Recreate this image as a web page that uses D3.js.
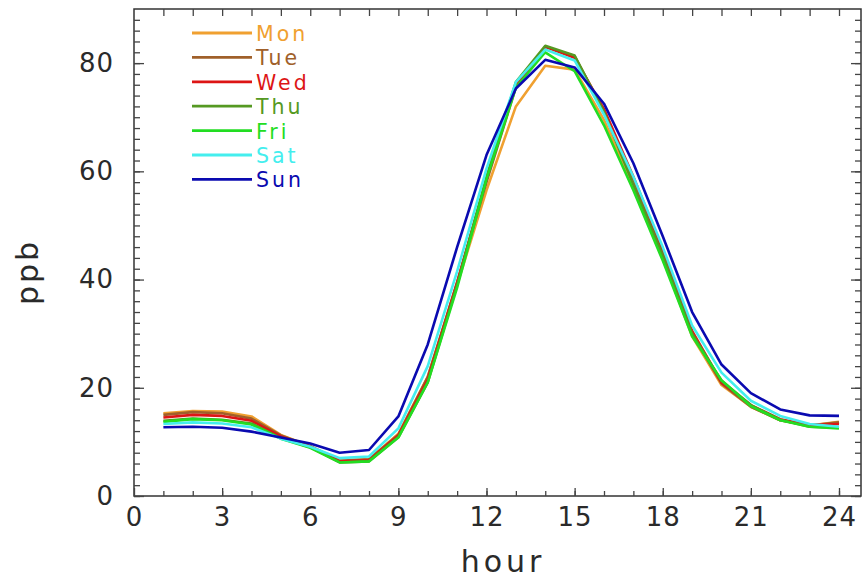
<!DOCTYPE html>
<html>
<head>
<meta charset="utf-8">
<script src="https://cdn.jsdelivr.net/npm/d3@7"></script>
<style>
  body { margin: 0; background: #fff; }
  svg text { font-family: "DejaVu Sans", sans-serif; fill: #2a2a2a; }
</style>
</head>
<body>
<div id="chart"></div>
<script>
// hours 1..24, ppb per weekday
const hours = d3.range(1, 25);
const days = ["Mon", "Tue", "Wed", "Thu", "Fri", "Sat", "Sun"];
const mon = [15.3,15.7,15.6,14.7,11.3,9.2,6.6,6.8,11.5,22,39,56.5,72,79.5,78.8,69.5,57,44,29.5,20.5,16.5,14,13,13.7];
const tue = [15.0,15.5,15.3,14.3,11.2,9.2,6.5,6.8,11.3,22,39.5,58,75.5,83,81.3,71,58.5,45,30,20.8,16.5,14,13,13.6];
const wed = [14.5,15.0,14.8,13.9,11.0,9.1,6.4,6.6,11.2,21.5,39.5,58.5,76,83,81,71.5,59,45.5,30.5,21,16.8,14.2,13.1,13.3];
const thu = [13.9,14.3,14.1,13.4,10.7,9.0,6.2,6.4,10.9,21,39,59,76.5,83.2,81.4,71,57.5,44.5,30,21.3,16.8,14.1,12.8,12.6];
const fri = [13.7,14.2,14.0,13.2,10.6,8.9,6.2,6.4,10.8,21,38.5,58.5,75.5,82,78.5,68.5,56.5,43.5,29.5,21.4,16.6,14,12.8,12.5];
const sat = [13.3,13.6,13.4,12.7,10.6,9.1,7.0,7.3,12.5,24,41.5,60.5,76.5,82.5,80.5,70.5,59,46,31.5,22.8,17.6,14.8,13.3,12.8];
const sun = [12.7,12.8,12.6,11.9,10.8,9.7,8.0,8.5,14.7,28,46,63,75.3,80.6,79.2,72.5,61.5,48,34,24.3,19,16,14.9,14.8];
const series = [mon, tue, wed, thu, fri, sat, sun];
const colors = ["#f0a030", "#a0602a", "#dd1515", "#559922", "#22dd22", "#44eeee", "#0a0ab0"];
const xTicks = [0, 3, 6, 9, 12, 15, 18, 21, 24];
const yTicks = [0, 20, 40, 60, 80];

const W = 863, H = 578;
const pLeft = 134, pRight = 861, pTop = 9, pBottom = 496;

const x = d3.scaleLinear().domain([0, 24]).range([pLeft, 839]);
const y = d3.scaleLinear().domain([0, 90]).range([pBottom, pTop]);

const svg = d3.select("#chart").append("svg")
  .attr("width", W).attr("height", H);

// frame
svg.append("rect")
  .attr("x", pLeft).attr("y", pTop)
  .attr("width", pRight - pLeft).attr("height", pBottom - pTop)
  .attr("fill", "none").attr("stroke", "#333").attr("stroke-width", 1.5);

const xMinor = d3.range(1, 25);
const yMinor = d3.range(0, 90, 2);

function styleAxis(g) {
  g.select(".domain").remove();
  g.selectAll(".tick line").attr("stroke", "#444").attr("stroke-width", 1.3);
  g.selectAll(".tick text").style("font-size", "26px").style("letter-spacing", "1px");
}

// bottom
svg.append("g").attr("transform", `translate(0,${pBottom})`)
  .call(d3.axisBottom(x).tickValues(xMinor).tickSize(-5).tickFormat(""))
  .call(styleAxis);
svg.append("g").attr("transform", `translate(0,${pBottom})`)
  .call(d3.axisBottom(x).tickValues(xTicks).tickSize(-8).tickPadding(12).tickFormat(d3.format("d")))
  .call(styleAxis);
// top
svg.append("g").attr("transform", `translate(0,${pTop})`)
  .call(d3.axisTop(x).tickValues(xMinor).tickSize(-7).tickFormat(""))
  .call(styleAxis);
// left
svg.append("g").attr("transform", `translate(${pLeft},0)`)
  .call(d3.axisLeft(y).tickValues(yMinor).tickSize(-6).tickFormat(""))
  .call(styleAxis);
svg.append("g").attr("transform", `translate(${pLeft},0)`)
  .call(d3.axisLeft(y).tickValues(yTicks).tickSize(-10).tickPadding(20).tickFormat(d3.format("d")))
  .call(styleAxis);
// right
svg.append("g").attr("transform", `translate(${pRight},0)`)
  .call(d3.axisRight(y).tickValues(yMinor).tickSize(-6).tickFormat(""))
  .call(styleAxis);
svg.append("g").attr("transform", `translate(${pRight},0)`)
  .call(d3.axisRight(y).tickValues(yTicks).tickSize(-10).tickFormat(""))
  .call(styleAxis);

// lines
const line = d3.line()
  .x((d, i) => x(hours[i]))
  .y(d => y(d));

svg.append("g")
  .selectAll("path")
  .data(series)
  .join("path")
  .attr("fill", "none")
  .attr("stroke", (d, i) => colors[i])
  .attr("stroke-width", 2.6)
  .attr("stroke-linejoin", "round")
  .attr("d", line);

// legend
const legend = svg.append("g");
days.forEach((d, i) => {
  const ly = 33 + i * 24.4;
  legend.append("line")
    .attr("x1", 192).attr("x2", 252)
    .attr("y1", ly).attr("y2", ly)
    .attr("stroke", colors[i]).attr("stroke-width", 2.8);
  legend.append("text")
    .attr("x", 256).attr("y", ly + 8)
    .style("font-size", "20.5px")
    .style("letter-spacing", "3px")
    .style("fill", colors[i])
    .text(d);
});

// axis titles
svg.append("text")
  .attr("x", 503).attr("y", 572)
  .attr("text-anchor", "middle")
  .style("font-size", "30px")
  .style("letter-spacing", "4px")
  .text("hour");

svg.append("text")
  .attr("transform", "translate(38,272) rotate(-90)")
  .attr("text-anchor", "middle")
  .style("font-size", "30px")
  .style("letter-spacing", "3px")
  .text("ppb");
</script>
</body>
</html>
